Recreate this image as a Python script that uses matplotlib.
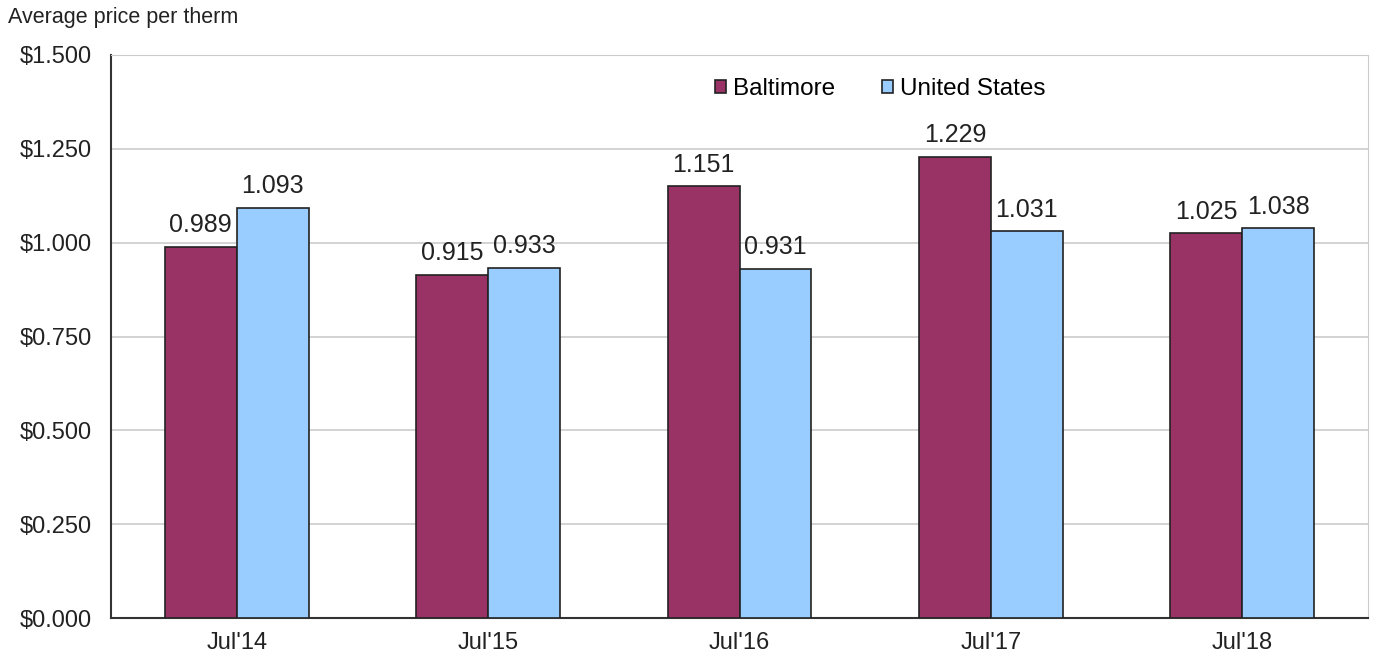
import matplotlib.pyplot as plt
import numpy as np

plt.rcParams['font.family'] = ['Liberation Sans', 'DejaVu Sans']

years = ["Jul'14", "Jul'15", "Jul'16", "Jul'17", "Jul'18"]
baltimore = [0.989, 0.915, 1.151, 1.229, 1.025]
united_states = [1.093, 0.933, 0.931, 1.031, 1.038]
yticks = [0, 0.25, 0.5, 0.75, 1.0, 1.25, 1.5]

fig = plt.figure(figsize=(13.78, 6.6), dpi=100)
ax = fig.add_axes([0.0806, 0.0636, 0.9121, 0.8531])

x = np.arange(len(years))
w = 0.286
b1 = ax.bar(x - w / 2, baltimore, w, color='#993366', edgecolor='#222222', linewidth=1.2, label='Baltimore', zorder=3)
b2 = ax.bar(x + w / 2, united_states, w, color='#99CCFF', edgecolor='#222222', linewidth=1.2, label='United States', zorder=3)

for bars, vals in ((b1, baltimore), (b2, united_states)):
    for r, v in zip(bars, vals):
        ax.text(r.get_x() + r.get_width() / 2, v + 0.025, '%.3f' % v,
                ha='center', va='bottom', fontsize=18, color='#222222')

ax.set_xlim(-0.5, len(years) - 0.5)
ax.set_ylim(0, 1.5)
ax.set_yticks(yticks)
ax.set_yticklabels(['$%.3f' % t for t in yticks])
ax.set_xticks(x)
ax.set_xticklabels(years)
ax.tick_params(axis='both', length=0, labelsize=17, colors='#222222')
ax.tick_params(axis='y', pad=14)
ax.tick_params(axis='x', pad=10)
ax.grid(axis='y', color='#cccccc', linewidth=1.2, zorder=0)

ax.spines['left'].set_color('#333333')
ax.spines['bottom'].set_color('#333333')
ax.spines['left'].set_linewidth(1.5)
ax.spines['bottom'].set_linewidth(1.5)
ax.spines['top'].set_color('#cccccc')
ax.spines['right'].set_color('#cccccc')

ax.legend(loc='center', bbox_to_anchor=(0.612, 0.94), ncol=2, frameon=False,
          fontsize=17.5, handlelength=0.45, handleheight=0.45, handletextpad=0.3,
          columnspacing=1.9)

fig.text(0.006, 0.973, 'Average price per therm', fontsize=15.5, color='#222222', va='center')

fig.savefig('out.png')
